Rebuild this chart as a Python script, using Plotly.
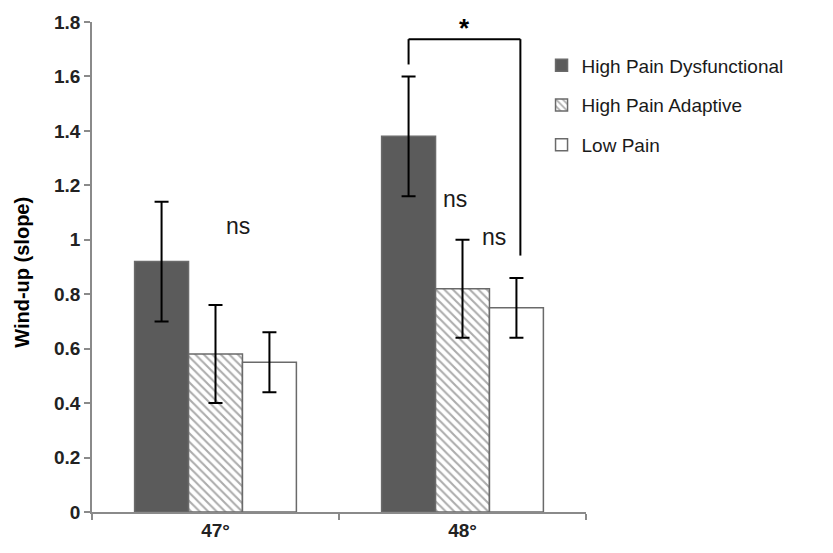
import plotly.graph_objects as go

categories = ["47°", "48°"]
cat_pos = [0, 1]
series_names = ["High Pain Dysfunctional", "High Pain Adaptive", "Low Pain"]
values = {
    "High Pain Dysfunctional": [0.92, 1.38],
    "High Pain Adaptive": [0.58, 0.82],
    "Low Pain": [0.55, 0.75],
}
errors = {
    "High Pain Dysfunctional": [0.22, 0.22],
    "High Pain Adaptive": [0.18, 0.18],
    "Low Pain": [0.11, 0.11],
}
ns_labels = [("ns", 0.09, 1.05), ("ns", 0.968, 1.15), ("ns", 1.129, 1.01)]
sig_label = "*"
y_title = "Wind-up (slope)"

FONT = "Liberation Sans, Arial, sans-serif"
AX = "#8a8a8a"
EDGE = "#6a6a6a"

styles = {
    "High Pain Dysfunctional": dict(color="#5b5b5b"),
    "High Pain Adaptive": dict(color="white", pattern=dict(shape="\\", fgcolor="#5a5a5a",
                                                            bgcolor="white", size=6, solidity=0.35)),
    "Low Pain": dict(color="white"),
}

fig = go.Figure()
for i, name in enumerate(series_names):
    fig.add_trace(go.Bar(
        x=cat_pos, y=values[name], name=name,
        legendgroup=str(i),
        marker=dict(**styles[name], line=dict(color=EDGE, width=1.5)),
        error_y=dict(type="data", array=errors[name], visible=True,
                     color="black", thickness=2, width=7),
    ))

# significance bracket
bw = (1 - 0.345) / 3
xl = 1 - bw
xr = 1 + bw + 0.016
ytop = 1.737
fig.add_shape(type="line", x0=xl, x1=xl, y0=1.644, y1=ytop, line=dict(color="black", width=2))
fig.add_shape(type="line", x0=xl, x1=xr, y0=ytop, y1=ytop, line=dict(color="black", width=2))
fig.add_shape(type="line", x0=xr, x1=xr, y0=ytop, y1=0.942, line=dict(color="black", width=2))
fig.add_annotation(x=(xl + xr) / 2, y=ytop, text="<b>" + sig_label + "</b>", showarrow=False,
                   yanchor="bottom", yshift=-6, font=dict(family=FONT, size=26, color="black"))

for t, x, y in ns_labels:
    fig.add_annotation(x=x, y=y, text=t, showarrow=False,
                       font=dict(family=FONT, size=23, color="#1a1a1a"))

# y-axis title
fig.add_annotation(xref="paper", yref="paper", x=-0.142, y=0.49, textangle=-90,
                   xanchor="center", yanchor="middle", showarrow=False,
                   text="<b>" + y_title + "</b>",
                   font=dict(family=FONT, size=20, color="black"))

fig.update_layout(
    width=833, height=553,
    margin=dict(l=92, r=247, t=20, b=40),
    paper_bgcolor="white", plot_bgcolor="white",
    barmode="group", bargap=0.345, bargroupgap=0,
    showlegend=True,
    legend=dict(x=0.91, xanchor="left", y=0.95, yanchor="top",
                font=dict(family=FONT, size=19, color="#1a1a1a"),
                traceorder="grouped", tracegroupgap=12,
                itemwidth=30, bgcolor="rgba(0,0,0,0)"),
    xaxis=dict(range=[-0.5, 1.5], tickmode="array", tickvals=cat_pos, ticktext=categories,
               ticks="", showline=True, linecolor=AX, linewidth=1.5, showgrid=False, zeroline=False,
               tickfont=dict(family=FONT, size=19, color="#222", weight="bold"),
               minor=dict(tickmode="array", tickvals=[-0.5, 0.5, 1.5], ticks="outside",
                          ticklen=6, tickcolor=AX, tickwidth=1.5, showgrid=False)),
    yaxis=dict(range=[0, 1.8], dtick=0.2, tick0=0, ticks="outside", ticklen=6, tickcolor=AX,
               tickwidth=1.5, showline=True, linecolor=AX, linewidth=1.5, showgrid=False,
               zeroline=False,
               tickfont=dict(family=FONT, size=19, color="#222", weight="bold")),
)

fig.write_html("out.html")
